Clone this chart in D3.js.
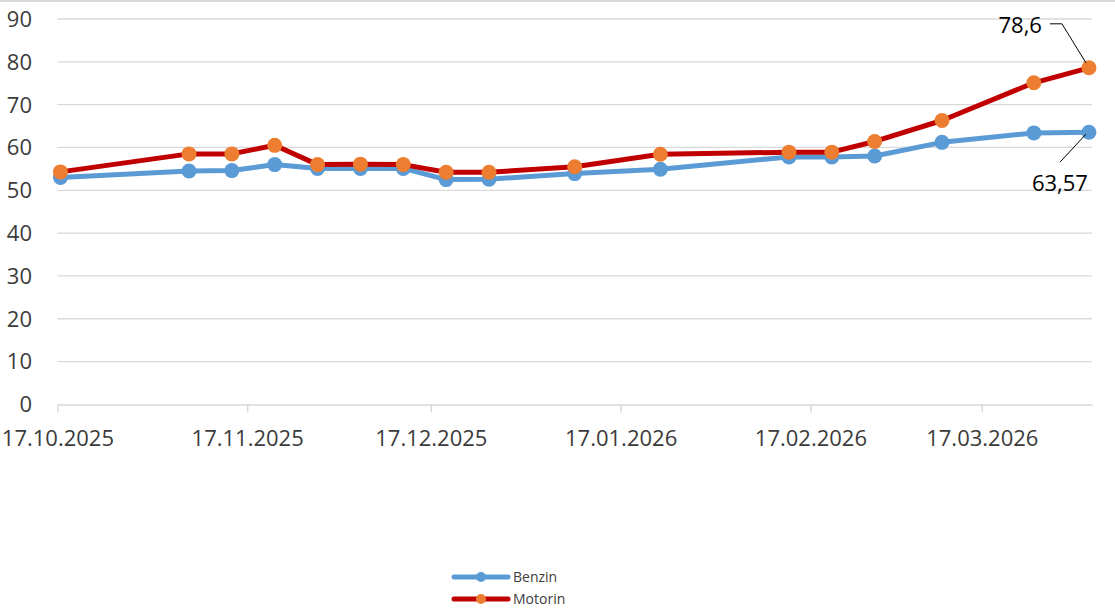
<!DOCTYPE html>
<html>
<head>
<meta charset="utf-8">
<title>Benzin / Motorin</title>
<style>
  body { margin: 0; background: #fff; }
  svg { display: block; font-family: 'Open Sans', sans-serif; }
  .grid line { stroke: #d9d9d9; stroke-width: 1.3; }
  .tick-lbl { fill: #3b3b3b; font-size: 22px; }
  .legend text { fill: #404040; font-size: 14px; }
</style>
</head>
<body>
<div id="chart"></div>
<script src="https://cdnjs.cloudflare.com/ajax/libs/d3/7.8.5/d3.min.js"></script>
<script>

// ---- data ----
var dates = ["17.10.2025", "07.11.2025", "14.11.2025", "21.11.2025", "28.11.2025",
             "05.12.2025", "12.12.2025", "19.12.2025", "26.12.2025", "09.01.2026",
             "23.01.2026", "13.02.2026", "20.02.2026", "27.02.2026", "10.03.2026",
             "25.03.2026", "03.04.2026"];
var benzin  = [53.0, 54.5, 54.6, 56.0, 55.1, 55.1, 55.1, 52.5, 52.6, 53.9,
               54.9, 57.8, 57.8, 58.0, 61.2, 63.4, 63.57];
var motorin = [54.3, 58.5, 58.5, 60.5, 56.0, 56.1, 56.0, 54.2, 54.2, 55.5,
               58.4, 58.9, 58.9, 61.4, 66.3, 75.1, 78.6];
var seriesNames = ["Benzin", "Motorin"];
var yTicks = [0, 10, 20, 30, 40, 50, 60, 70, 80, 90];
var xTickLabels = ["17.10.2025", "17.11.2025", "17.12.2025", "17.01.2026", "17.02.2026", "17.03.2026"];
var axisEnd = "04.04.2026";

var W = 1115, H = 613;
var parse = d3.timeParse("%d.%m.%Y");
var fmt = d3.timeFormat("%d.%m.%Y");
var numFmt = function(v) { return String(v).replace(".", ","); };

var svg = d3.select("#chart").append("svg")
  .attr("width", W)
  .attr("height", H);

// outer chart border (only the top edge shows)
svg.append("line")
  .attr("x1", 0).attr("x2", W)
  .attr("y1", 1).attr("y2", 1)
  .attr("stroke", "#d9d9d9").attr("stroke-width", 2);

var x = d3.scaleTime()
  .domain([parse(xTickLabels[0]), parse(axisEnd)])
  .range([57.4, 1092]);

var y = d3.scaleLinear()
  .domain([0, 90])
  .range([404.4, 19]);

// points sit in the middle of their day (Excel date axis)
function px(s) { return x(d3.timeHour.offset(parse(s), 12)); }

// gridlines
svg.append("g").attr("class", "grid")
  .selectAll("line")
  .data(yTicks.filter(function(d){ return d > 0; }))
  .enter().append("line")
  .attr("x1", x.range()[0]).attr("x2", x.range()[1])
  .attr("y1", function(d){ return y(d); })
  .attr("y2", function(d){ return y(d); });

// y labels
svg.append("g")
  .selectAll("text")
  .data(yTicks)
  .enter().append("text")
  .attr("class", "tick-lbl")
  .attr("x", 32)
  .attr("y", function(d){ return y(d); })
  .attr("dy", "0.36em")
  .attr("text-anchor", "end")
  .text(function(d){ return d; });

// x axis
var xAxis = d3.axisBottom(x)
  .tickValues(xTickLabels.map(parse))
  .tickSizeInner(8)
  .tickSizeOuter(0)
  .tickPadding(18)
  .tickFormat(fmt);

var gx = svg.append("g")
  .attr("transform", "translate(0," + y(0) + ")")
  .call(xAxis);
gx.select(".domain").attr("stroke", "#d9d9d9").attr("stroke-width", 1.5);
gx.selectAll(".tick line").attr("stroke", "#d9d9d9").attr("stroke-width", 1.5);
gx.selectAll(".tick text")
  .attr("class", "tick-lbl")
  .attr("fill", null)
  .style("font-family", "'Open Sans', sans-serif")
  .style("font-size", "22px");

// series
var series = [
  { name: seriesNames[0], values: benzin,  line: "#5b9bd5", marker: "#5b9bd5" },
  { name: seriesNames[1], values: motorin, line: "#c00000", marker: "#ed7d31" }
];

var line = d3.line()
  .x(function(d, i){ return px(dates[i]); })
  .y(function(d){ return y(d); });

series.forEach(function(s) {
  svg.append("path")
    .datum(s.values)
    .attr("d", line)
    .attr("fill", "none")
    .attr("stroke", s.line)
    .attr("stroke-width", 5)
    .attr("stroke-linejoin", "round");

  svg.append("g")
    .selectAll("circle")
    .data(s.values)
    .enter().append("circle")
    .attr("cx", function(d, i){ return px(dates[i]); })
    .attr("cy", function(d){ return y(d); })
    .attr("r", 7.5)
    .attr("fill", s.marker);
});

// data labels on the last points, with leader lines
var last = dates.length - 1;
var lx = px(dates[last]);

var ym = y(motorin[last]);
svg.append("polyline")
  .attr("points", [[lx - 3, ym - 5], [lx - 27, ym - 44], [lx - 39, ym - 44]].join(" "))
  .attr("fill", "none").attr("stroke", "#000").attr("stroke-width", 1);
svg.append("text")
  .attr("x", lx - 47).attr("y", ym - 43)
  .attr("dy", "0.36em")
  .attr("text-anchor", "end")
  .attr("font-size", 22)
  .attr("fill", "#000")
  .text(numFmt(motorin[last]));

var yb = y(benzin[last]);
svg.append("line")
  .attr("x1", lx - 3).attr("y1", yb + 2)
  .attr("x2", lx - 29).attr("y2", yb + 30)
  .attr("stroke", "#000").attr("stroke-width", 1);
svg.append("text")
  .attr("x", lx - 1).attr("y", yb + 51)
  .attr("dy", "0.36em")
  .attr("text-anchor", "end")
  .attr("font-size", 22)
  .attr("fill", "#000")
  .text(numFmt(benzin[last]));

// legend
var legend = svg.append("g")
  .attr("class", "legend")
  .selectAll("g")
  .data(series)
  .enter().append("g")
  .attr("transform", function(d, i){ return "translate(454," + (577 + i * 22) + ")"; });

legend.append("line")
  .attr("x1", 0).attr("x2", 54)
  .attr("stroke", function(d){ return d.line; })
  .attr("stroke-width", 5)
  .attr("stroke-linecap", "round");
legend.append("circle")
  .attr("cx", 27).attr("r", 5)
  .attr("fill", function(d){ return d.marker; });
legend.append("text")
  .attr("x", 59)
  .attr("dy", "0.36em")
  .text(function(d){ return d.name; });

</script>
</body>
</html>
